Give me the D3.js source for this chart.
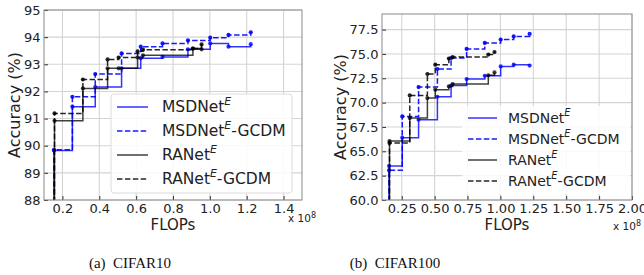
<!DOCTYPE html>
<html lang="en">
<head>
    <meta charset="UTF-8">
    <script src="https://cdn.jsdelivr.net/npm/d3@7"></script>
    <title>Accuracy vs FLOPs</title>
    <style>
        body { margin: 0; background: #fff; }
        text { font-family: "DejaVu Sans", sans-serif; fill: #222; }
        .caption { font-family: "Liberation Serif", serif; fill: #111; }
    </style>
</head>
<body>
    <svg width="644" height="275"></svg>
    <script>
        // FLOPs of each exit (x 1e8), one list per backbone
        const msdFlops = [0.154, 0.154, 0.254, 0.378, 0.521, 0.625, 0.743, 0.881, 1.002, 1.101, 1.222];
        const raFlops = [0.157, 0.157, 0.311, 0.445, 0.505, 0.608, 0.637, 0.908, 0.955];

        // CIFAR10 accuracy (%) - first value sits below the visible range
        const c10Msd = [85.0, 89.82, 91.44, 92.16, 92.85, 93.22, 93.27, 93.55, 93.77, 93.65, 93.74];
        const c10MsdGcdm = [85.0, 89.85, 91.80, 92.64, 93.40, 93.65, 93.77, 93.88, 93.98, 94.08, 94.18];
        const c10Ra = [85.0, 90.92, 92.11, 92.85, 92.85, 93.25, 93.33, 93.58, 93.55];
        const c10RaGcdm = [85.0, 91.19, 92.44, 93.18, 93.25, 93.48, 93.54, 93.58, 93.73];

        // CIFAR100 accuracy (%)
        const c100Msd = [55.0, 63.5, 66.4, 68.24, 70.6, 71.75, 72.42, 72.76, 73.72, 73.9, 73.8];
        const c100MsdGcdm = [55.0, 63.05, 68.58, 71.6, 73.45, 74.58, 75.51, 76.13, 76.47, 76.8, 77.05];
        const c100Ra = [55.0, 66.05, 68.41, 70.47, 71.33, 71.66, 71.9, 72.8, 73.1];
        const c100RaGcdm = [55.0, 65.85, 70.74, 72.94, 73.9, 74.52, 74.68, 74.93, 75.2];

        // tick labels
        const c10XTicks = [0.2, 0.4, 0.6, 0.8, 1.0, 1.2, 1.4];
        const c10YTicks = [88, 89, 90, 91, 92, 93, 94, 95];
        const c100XTicks = [0.25, 0.5, 0.75, 1.0, 1.25, 1.5, 1.75, 2.0];
        const c100YTicks = [60, 62.5, 65, 67.5, 70, 72.5, 75, 77.5];

        const legendNames = ['MSDNet', 'MSDNet', 'RANet', 'RANet'];
        const legendSuffix = ['', '-GCDM', '', '-GCDM'];

        const svg = d3.select('svg');

        const styles = [
            { color: 'blue', dash: null, opacity: 0.8 },
            { color: 'blue', dash: '5.5,2.4', opacity: 0.9 },
            { color: 'black', dash: null, opacity: 0.75 },
            { color: 'black', dash: '5.5,2.4', opacity: 0.85 }
        ];

        function drawPanel(p) {
            const x = d3.scaleLinear().domain(p.xDomain).range([p.left, p.right]);
            const y = d3.scaleLinear().domain(p.yDomain).range([p.bottom, p.top]);
            const g = svg.append('g');

            const clipId = 'clip' + p.id;
            svg.append('clipPath').attr('id', clipId)
                .append('rect')
                .attr('x', p.left).attr('y', p.top)
                .attr('width', p.right - p.left).attr('height', p.bottom - p.top);

            // grid
            g.append('g').selectAll('line').data(p.xTicks).join('line')
                .attr('x1', d => x(d)).attr('x2', d => x(d))
                .attr('y1', p.top).attr('y2', p.bottom)
                .attr('stroke', '#d4d4d4').attr('stroke-width', 1.1);
            g.append('g').selectAll('line').data(p.yTicks).join('line')
                .attr('x1', p.left).attr('x2', p.right)
                .attr('y1', d => y(d)).attr('y2', d => y(d))
                .attr('stroke', '#d4d4d4').attr('stroke-width', 1.1);

            // step lines (steps-post)
            const series = [
                { xs: msdFlops, ys: p.data[0] },
                { xs: msdFlops, ys: p.data[1] },
                { xs: raFlops, ys: p.data[2] },
                { xs: raFlops, ys: p.data[3] }
            ];
            const line = d3.line().x(d => x(d[0])).y(d => y(d[1])).curve(d3.curveStepAfter);
            const plot = g.append('g').attr('clip-path', `url(#${clipId})`);
            series.forEach((s, i) => {
                const pts = s.xs.map((v, j) => [v, s.ys[j]]);
                plot.append('path')
                    .attr('d', line(pts))
                    .attr('fill', 'none')
                    .attr('stroke', styles[i].color)
                    .attr('stroke-opacity', styles[i].opacity)
                    .attr('stroke-width', 1.5)
                    .attr('stroke-dasharray', styles[i].dash);
                plot.append('g').selectAll('circle').data(pts).join('circle')
                    .attr('cx', d => x(d[0])).attr('cy', d => y(d[1]))
                    .attr('r', 2.1)
                    .attr('fill', styles[i].color)
                    .attr('fill-opacity', styles[i].opacity);
            });

            // axes, ticks pointing inward
            const xAxis = g.append('g')
                .attr('transform', `translate(0,${p.bottom})`)
                .call(d3.axisBottom(x).tickValues(p.xTicks).tickFormat(d3.format(p.xFmt))
                    .tickSize(-4).tickPadding(4));
            const yAxis = g.append('g')
                .attr('transform', `translate(${p.left},0)`)
                .call(d3.axisLeft(y).tickValues(p.yTicks).tickFormat(d3.format(p.yFmt))
                    .tickSize(-4).tickPadding(3.5));
            [xAxis, yAxis].forEach(a => {
                a.select('.domain').remove();
                a.selectAll('line').attr('stroke', '#333');
                a.selectAll('text').attr('font-size', 13)
                    .attr('font-family', '"DejaVu Sans", sans-serif').attr('fill', '#222');
            });

            // frame
            g.append('rect')
                .attr('x', p.left).attr('y', p.top)
                .attr('width', p.right - p.left).attr('height', p.bottom - p.top)
                .attr('fill', 'none').attr('stroke', '#8a8a8a').attr('stroke-width', 1);

            // labels
            g.append('text')
                .attr('x', (p.left + p.right) / 2).attr('y', 230)
                .attr('text-anchor', 'middle').attr('font-size', 15)
                .text('FLOPs');
            g.append('text')
                .attr('transform', `translate(${p.yLabelX},${(p.top + p.bottom) / 2}) rotate(-90)`)
                .attr('text-anchor', 'middle').attr('dominant-baseline', 'central')
                .attr('font-size', 16)
                .text('Accuracy (%)');
            const off = g.append('text')
                .attr('x', p.offX).attr('y', p.offY)
                .attr('font-size', 10.5);
            off.append('tspan').text('x 10');
            off.append('tspan').attr('dy', -4).attr('font-size', 8).text('8');

            // legend
            const lg = g.append('g');
            lg.append('rect')
                .attr('x', p.lg.x).attr('y', p.lg.y)
                .attr('width', p.lg.w).attr('height', p.lg.h)
                .attr('rx', 3)
                .attr('fill', 'white').attr('fill-opacity', 0.85)
                .attr('stroke', p.lg.border).attr('stroke-width', 1);
            legendNames.forEach((name, i) => {
                const cy = p.lg.rows[i];
                lg.append('line')
                    .attr('x1', p.lg.h0).attr('x2', p.lg.h1)
                    .attr('y1', cy).attr('y2', cy)
                    .attr('stroke', styles[i].color)
                    .attr('stroke-opacity', styles[i].opacity)
                    .attr('stroke-width', 1.5)
                    .attr('stroke-dasharray', styles[i].dash);
                const t = lg.append('text')
                    .attr('x', p.lg.tx).attr('y', cy)
                    .attr('dominant-baseline', 'central')
                    .attr('font-size', p.lg.fs);
                t.append('tspan').text(name);
                t.append('tspan').attr('dy', -p.lg.fs * 0.4)
                    .attr('font-style', 'italic').attr('font-size', p.lg.fs * 0.7).text('E');
                t.append('tspan').attr('dy', p.lg.fs * 0.4).text(legendSuffix[i]);
            });

            svg.append('text').attr('class', 'caption')
                .attr('x', p.capX).attr('y', 268)
                .attr('text-anchor', 'middle').attr('font-size', 15)
                .attr('xml:space', 'preserve')
                .text(p.caption);
        }

        drawPanel({
            id: 'a', left: 44, right: 302, top: 10, bottom: 200,
            xDomain: [0.1, 1.5], yDomain: [88, 95],
            xTicks: c10XTicks, yTicks: c10YTicks, xFmt: '.1f', yFmt: 'd',
            data: [c10Msd, c10MsdGcdm, c10Ra, c10RaGcdm],
            yLabelX: 14, offX: 288, offY: 222,
            lg: { x: 111, y: 94, w: 181, h: 99, border: '#dcdcdc', rows: [107, 131, 155, 179],
                  h0: 117, h1: 148, tx: 162, fs: 15.5 },
            capX: 130, caption: '(a)  CIFAR10'
        });

        drawPanel({
            id: 'b', left: 382, right: 632, top: 14, bottom: 200,
            xDomain: [0.1, 2.0], yDomain: [60, 79.1],
            xTicks: c100XTicks, yTicks: c100YTicks, xFmt: '.2f', yFmt: '.1f',
            data: [c100Msd, c100MsdGcdm, c100Ra, c100RaGcdm],
            yLabelX: 340, offX: 613, offY: 230,
            lg: { x: 462, y: 106, w: 168, h: 88, border: 'none', rows: [118, 139, 160, 181],
                  h0: 468, h1: 497, tx: 508, fs: 14 },
            capX: 395, caption: '(b)  CIFAR100'
        });
    </script>
</body>
</html>
